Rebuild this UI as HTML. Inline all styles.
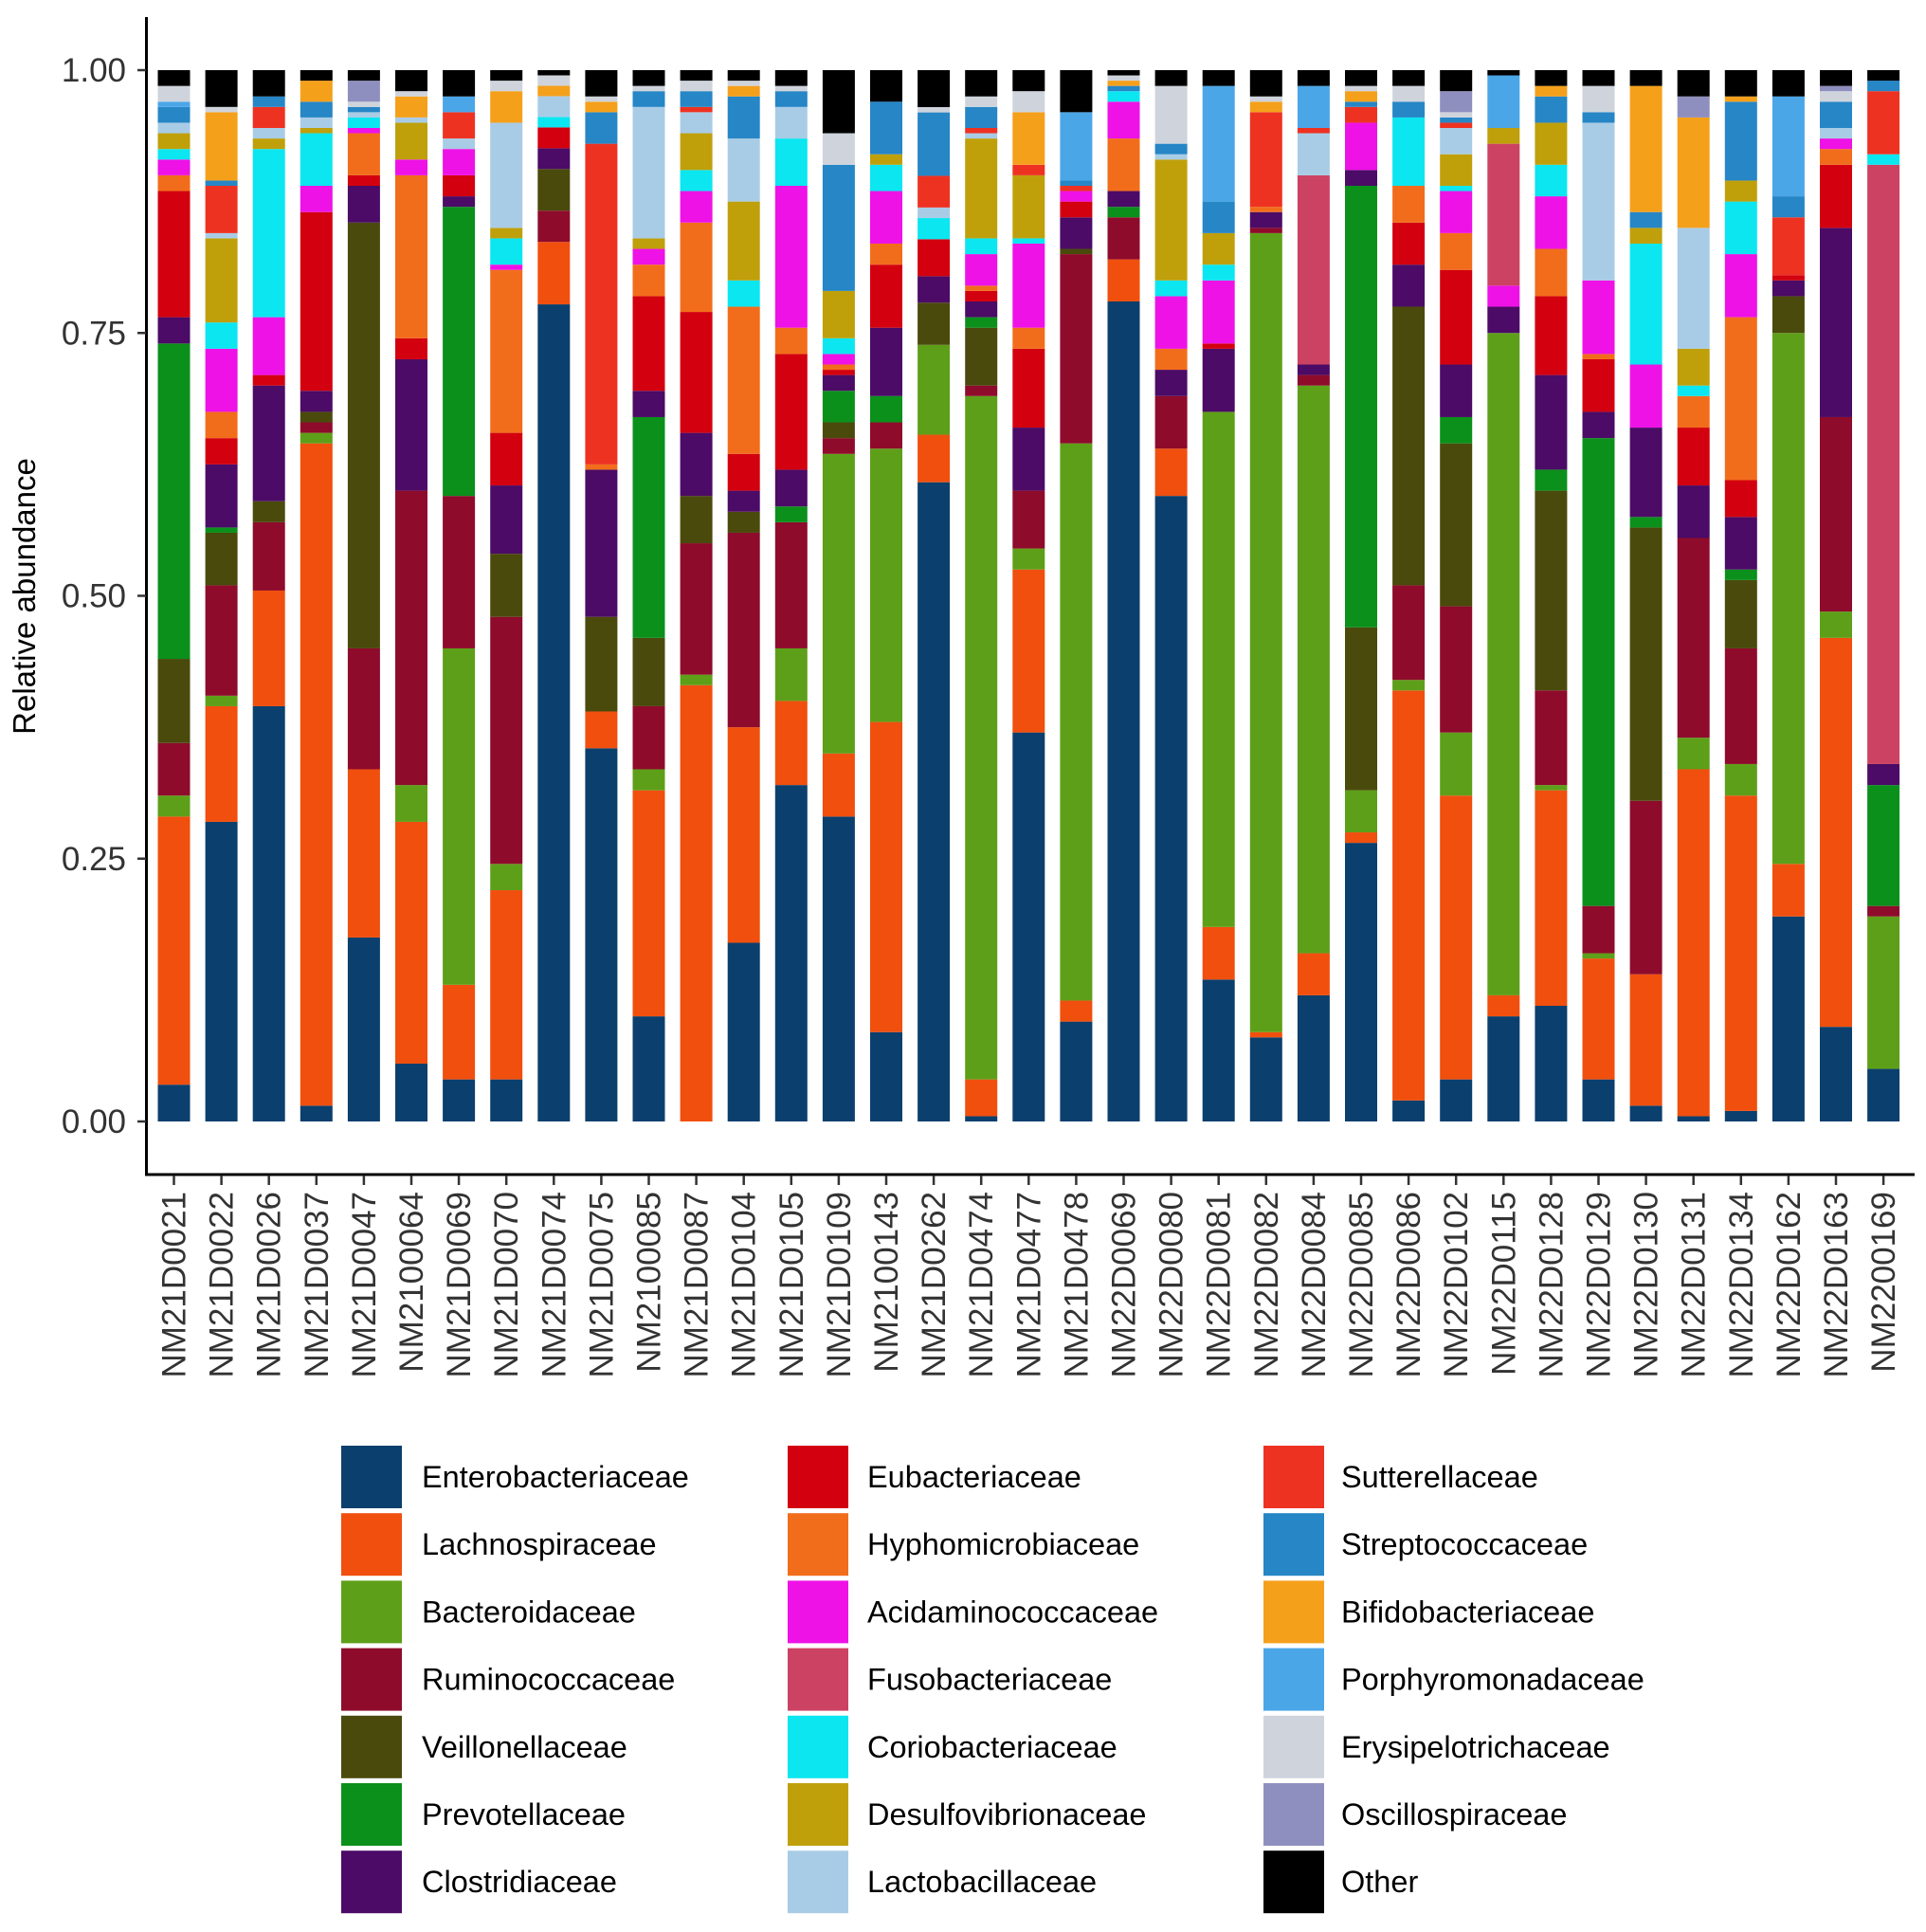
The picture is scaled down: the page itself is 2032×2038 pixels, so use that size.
<!DOCTYPE html>
<html><head><meta charset="utf-8"><style>
html,body{margin:0;padding:0;background:#fff;}
svg{display:block;font-family:"Liberation Sans",sans-serif;}
</style></head><body>
<svg id="chart" width="2032" height="2038" viewBox="0 0 2032 2038">
<g id="bars"></g>
<g id="axes"></g>
<g id="legend"></g>
</svg>
<script>
const samples=["NM21D0021","NM21D0022","NM21D0026","NM21D0037","NM21D0047","NM2100064","NM21D0069","NM21D0070","NM21D0074","NM21D0075","NM2100085","NM21D0087","NM21D0104","NM21D0105","NM21D0109","NM2100143","NM21D0262","NM21D0474","NM21D0477","NM21D0478","NM22D0069","NM22D0080","NM22D0081","NM22D0082","NM22D0084","NM22D0085","NM22D0086","NM22D0102","NM22D0115","NM22D0128","NM22D0129","NM22D0130","NM22D0131","NM22D0134","NM22D0162","NM22D0163","NM2200169"];
const families=["Enterobacteriaceae","Lachnospiraceae","Bacteroidaceae","Ruminococcaceae","Veillonellaceae","Prevotellaceae","Clostridiaceae","Eubacteriaceae","Hyphomicrobiaceae","Acidaminococcaceae","Fusobacteriaceae","Coriobacteriaceae","Desulfovibrionaceae","Lactobacillaceae","Sutterellaceae","Streptococcaceae","Bifidobacteriaceae","Porphyromonadaceae","Erysipelotrichaceae","Oscillospiraceae","Other"];
const colors=["#0b3f6d","#f04f0e","#5e9f19","#8e0b2b","#4a4a0c","#0b901b","#4b0b66","#d3000f","#f26d1b","#ee12e6","#cc4262","#0be6f0","#bfa00b","#a9cce6","#ee3222","#2686c6","#f5a01b","#4ba6e8","#cfd4dc","#8f8fbf","#000000"];
const yTicks=[0,0.25,0.5,0.75,1];
const yTickLabels=["0.00","0.25","0.50","0.75","1.00"];
const vEntero=[.035,.285,.395,.015,.175,.055,.04,.04,.785,.355,.10,0,.17,.32,.29,.085,.605,.005,.37,.095,.78,.595,.135,.08,.12,.265,.02,.04,.10,.11,.04,.015,.005,.01,.195,.09,.05];
const vLachno=[.255,.11,.11,.63,.16,.23,.09,.18,.06,.035,.215,.415,.205,.08,.06,.295,.045,.035,.155,.02,.04,.045,.05,.005,.04,.01,.39,.27,.02,.205,.115,.125,.33,.30,.05,.37,0];
const vBactero=[.02,.01,0,.01,0,.035,.32,.025,0,0,.02,.01,0,.05,.285,.26,.085,.65,.02,.53,0,0,.49,.76,.54,.04,.01,.06,.63,.005,.005,0,.03,.03,.505,.025,.145];
const vRumino=[.05,.105,.065,.01,.115,.28,.145,.235,.03,0,.06,.125,.185,.12,.015,.025,0,.01,.055,.18,.04,.05,0,.005,.01,0,.09,.12,0,.09,.045,.165,.19,.11,0,.185,.01];
const vVeillon=[.08,.05,.02,.01,.405,0,0,.06,.04,.09,.065,.045,.02,0,.015,0,.04,.055,0,.005,0,0,0,0,0,.155,.265,.155,0,.19,0,.26,0,.065,.035,0,0];
const vPrevo=[.30,.005,0,0,0,0,.275,0,0,0,.21,0,0,.015,.03,.025,0,.01,0,0,.01,0,0,0,0,.42,0,.025,0,.02,.445,.01,0,.01,0,0,.115];
const vClostr=[.025,.06,.11,.02,.035,.125,.01,.065,.02,.14,.025,.06,.02,.035,.015,.065,.025,.015,.06,.03,.015,.025,.06,.015,.01,.015,.04,.05,.025,.09,.025,.085,.05,.05,.015,.18,.02];
const vEubact=[.12,.025,.01,.17,.01,.02,.02,.05,.02,0,.09,.115,.035,.11,.005,.06,.035,.01,.075,.015,0,0,.005,0,0,0,.04,.09,0,.075,.05,0,.055,.035,.005,.06,0];
const vHypho=[.015,.025,0,0,.04,.155,0,.155,0,.005,.03,.085,.14,.025,.005,.02,0,.005,.02,0,.05,.02,0,.005,0,0,.035,.035,0,.045,.005,0,.03,.155,0,.015,0];
const vAcid=[.015,.06,.055,.025,.005,.015,.025,.005,0,0,.015,.03,0,.135,.01,.05,0,.03,.08,.01,.035,.05,.06,0,0,.045,0,.04,.02,.05,.07,.06,0,.06,0,.01,0];
const vFuso=[0,0,0,0,0,0,0,0,0,0,0,0,0,0,0,0,0,0,0,0,0,0,0,0,.18,0,0,0,.135,0,0,0,0,0,0,0,.57];
const vCorio=[.01,.025,.16,.05,.01,0,0,.025,.01,0,0,.02,.025,.045,.015,.025,.02,.015,.005,0,.01,.015,.015,0,0,0,.065,.005,0,.03,0,.115,.01,.05,0,0,.01];
const vDesulf=[.015,.08,.01,.005,0,.035,0,.01,0,0,.01,.035,.075,0,.045,.01,0,.095,.06,0,0,.115,.03,0,0,0,0,.03,.015,.04,0,.015,.035,.02,0,0,0];
const vLacto=[.01,.005,.01,.01,.005,.005,.01,.10,.02,0,.125,.02,.06,.03,0,0,.01,.005,0,0,0,.005,0,0,.04,0,0,.025,0,0,.15,0,.115,0,0,.01,0];
const vSutter=[0,.045,.02,0,0,0,.025,0,0,.305,0,.005,0,0,0,0,.03,.005,.01,.005,0,0,0,.09,.005,.015,0,.005,0,0,0,0,0,0,.055,0,.06];
const vStrep=[.015,.005,.01,.015,.005,0,0,0,0,.03,.015,.015,.04,.015,.12,.05,.06,.02,0,.005,.005,.01,.03,0,0,.005,.015,.005,0,.025,.01,.015,0,.075,.02,.025,.01];
const vBifido=[0,.065,0,.02,0,.02,0,.03,.01,.01,0,0,.01,0,0,0,0,0,.05,0,.005,0,0,.01,0,.01,0,0,0,.01,0,.12,.105,.005,0,0,0];
const vPorph=[.005,0,0,0,0,0,.015,0,0,0,0,0,0,0,0,0,0,0,0,.065,0,0,.11,0,.04,0,0,0,.05,0,0,0,0,0,.095,0,0];
const vErys=[.015,.005,0,0,.005,.005,0,.01,.01,.005,.005,.01,.005,.005,.03,0,.005,.01,.02,0,.005,.055,0,.005,0,.005,.015,.005,0,0,.025,0,0,0,0,.01,0];
const vOscil=[0,0,0,0,.02,0,0,0,0,0,0,0,0,0,0,0,0,0,0,0,0,0,0,0,0,0,0,.02,0,0,0,0,.02,0,0,.005,0];
const vOther=[.015,.035,.025,.01,.01,.02,.025,.01,.005,.025,.015,.01,.01,.015,.06,.03,.035,.025,.02,.04,.005,.015,.015,.025,.015,.015,.015,.02,.005,.015,.015,.015,.025,.025,.025,.015,.01];
const series=[vEntero,vLachno,vBactero,vRumino,vVeillon,vPrevo,vClostr,vEubact,vHypho,vAcid,vFuso,vCorio,vDesulf,vLacto,vSutter,vStrep,vBifido,vPorph,vErys,vOscil,vOther];

const NS="http://www.w3.org/2000/svg";
function mk(tag,attrs,parent){const e=document.createElementNS(NS,tag);for(const k in attrs)e.setAttribute(k,attrs[k]);parent.appendChild(e);return e;}
const y0=1183,y1=74;
function yScale(v){return y0-(y0-y1)*v;}
const xStart=183.5,xStep=50.1,barW=34;
function xScale(i){return xStart+i*xStep;}
const gb=document.getElementById('bars');
samples.forEach((s,i)=>{
  let total=0;series.forEach(a=>total+=(a[i]||0));
  let cum=0;
  series.forEach((a,k)=>{
    const v=(a[i]||0)/total;if(v<=0)return;
    const r=mk('rect',{x:xScale(i)-barW/2,y:yScale(cum+v),width:barW,height:yScale(cum)-yScale(cum+v),fill:colors[k]},gb);
    
    
    cum+=v;
  });
});
const ga=document.getElementById('axes');
const yl=mk('line',{x1:154.5,y1:18,x2:154.5,y2:1240,stroke:'#000','stroke-width':3},ga);

const xl=mk('line',{x1:153,y1:1239,x2:2020,y2:1239,stroke:'#000','stroke-width':3},ga);

yTicks.forEach((t,j)=>{
  const tk=mk('line',{x1:145,x2:154,y1:yScale(t),y2:yScale(t),stroke:'#333','stroke-width':2.5},ga);
  
  const tx=mk('text',{x:133,y:yScale(t)+12,'text-anchor':'end','font-size':35,fill:'#333'},ga);
  tx.textContent=yTickLabels[j];
  
});
const yt=mk('text',{x:0,y:0,'text-anchor':'middle','font-size':33,fill:'#000',transform:'translate(37,629) rotate(-90)'},ga);
yt.textContent='Relative abundance';

samples.forEach((s,i)=>{
  const tk=mk('line',{x1:xScale(i),x2:xScale(i),y1:1240,y2:1250,stroke:'#333','stroke-width':2.5},ga);
  
  const tx=mk('text',{x:0,y:0,'text-anchor':'end','font-size':35,fill:'#333',transform:'translate('+(xScale(i)+12)+',1257) rotate(-90)'},ga);
  tx.textContent=s;
  
});
const gl=document.getElementById('legend');
const colX=[360,831,1333],textX=[445,915,1415];
families.forEach((f,k)=>{
  const c=Math.floor(k/7),r=k%7;
  const y=1525+r*71.2;
  const sw=mk('rect',{x:colX[c],y:y,width:64,height:66,fill:colors[k]},gl);
  
  const tx=mk('text',{x:textX[c],y:y+44,'font-size':32.5,fill:'#000'},gl);
  tx.textContent=f;
  
});
</script>
</body></html>
